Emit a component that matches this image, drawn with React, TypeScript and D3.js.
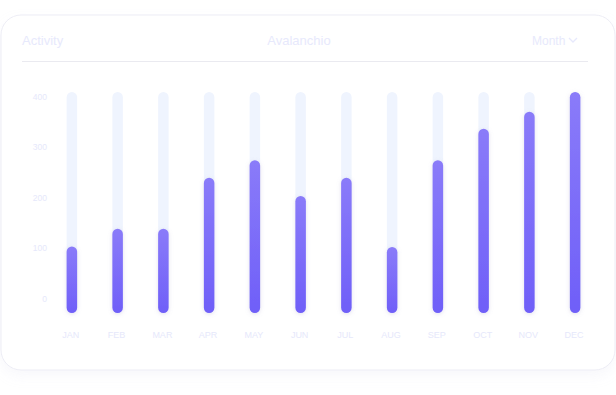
import React, { useEffect, useRef } from "react";
import * as d3 from "d3";

const months = ["JAN", "FEB", "MAR", "APR", "MAY", "JUN", "JUL", "AUG", "SEP", "OCT", "NOV", "DEC"];
const activity = [104, 139, 139, 240, 275, 204, 240, 103, 275, 337, 371, 410];
const yTicks = [0, 100, 200, 300, 400];
const trackMax = 410;

const App = () => {
  const ref = useRef(null);

  useEffect(() => {
    const width = 616;
    const height = 395;

    d3.select(ref.current).selectAll("*").remove();
    const svg = d3
      .select(ref.current)
      .append("svg")
      .attr("width", width)
      .attr("height", height)
      .style("position", "absolute")
      .style("left", 0)
      .style("top", 0)
      .style("font-family", "'Liberation Sans', Arial, sans-serif");

    const defs = svg.append("defs");
    const grad = defs
      .append("linearGradient")
      .attr("id", "barGrad")
      .attr("x1", 0)
      .attr("y1", 0)
      .attr("x2", 0)
      .attr("y2", 1);
    grad.append("stop").attr("offset", "0%").attr("stop-color", "#8a7bf9");
    grad.append("stop").attr("offset", "100%").attr("stop-color", "#6f5ff8");

    const cardShadow = defs.append("filter").attr("id", "cardShadow").attr("x", "-10%").attr("y", "-10%").attr("width", "120%").attr("height", "130%");
    cardShadow.append("feDropShadow").attr("dx", 0).attr("dy", 6).attr("stdDeviation", 6).attr("flood-color", "#d0d0e6").attr("flood-opacity", 0.15);

    const barShadow = defs.append("filter").attr("id", "barShadow").attr("x", "-100%").attr("y", "-20%").attr("width", "300%").attr("height", "140%");
    barShadow.append("feDropShadow").attr("dx", 0).attr("dy", 1).attr("stdDeviation", 2).attr("flood-color", "#9a94c8").attr("flood-opacity", 0.3);

    // card
    svg
      .append("rect")
      .attr("x", 1)
      .attr("y", 15)
      .attr("width", 614)
      .attr("height", 355)
      .attr("rx", 20)
      .attr("fill", "#ffffff")
      .attr("stroke", "#ededf5")
      .attr("stroke-width", 1)
      .attr("filter", "url(#cardShadow)");

    // header
    const headColor = "#e7e9fc";
    svg.append("text").attr("x", 22).attr("y", 45).attr("font-size", 13).attr("fill", headColor).text("Activity");
    svg
      .append("text")
      .attr("x", 299)
      .attr("y", 45)
      .attr("font-size", 13)
      .attr("text-anchor", "middle")
      .attr("fill", headColor)
      .text("Avalanchio");
    svg.append("text").attr("x", 532).attr("y", 45).attr("font-size", 12).attr("fill", headColor).text("Month");
    svg
      .append("path")
      .attr("d", "M569,38 L573,42 L577,38")
      .attr("fill", "none")
      .attr("stroke", headColor)
      .attr("stroke-width", 1.3);

    svg
      .append("line")
      .attr("x1", 22)
      .attr("x2", 588)
      .attr("y1", 61.5)
      .attr("y2", 61.5)
      .attr("stroke", "#eaeaf0")
      .attr("stroke-width", 1);

    // scales
    const x = d3.scaleBand().domain(months).range([49, 598]);
    const y = d3.scaleLinear().domain([0, 400]).range([299, 97]);
    const barW = 10.5;
    const bottom = 313;

    svg
      .append("g")
      .selectAll("text")
      .data(yTicks)
      .enter()
      .append("text")
      .attr("x", 47)
      .attr("y", (d) => y(d))
      .attr("dy", "0.35em")
      .attr("text-anchor", "end")
      .attr("font-size", 8.5)
      .attr("fill", "#e6e8fb")
      .text((d) => d);

    // tracks
    svg
      .append("g")
      .selectAll("rect")
      .data(months)
      .enter()
      .append("rect")
      .attr("x", (d) => (x(d) as number) + x.bandwidth() / 2 - barW / 2)
      .attr("y", y(trackMax))
      .attr("width", barW)
      .attr("height", bottom - y(trackMax))
      .attr("rx", barW / 2)
      .attr("fill", "#eff4fe");

    // bars
    svg
      .append("g")
      .selectAll("rect")
      .data(activity)
      .enter()
      .append("rect")
      .attr("x", (d, i) => (x(months[i]) as number) + x.bandwidth() / 2 - barW / 2)
      .attr("y", (d) => y(d))
      .attr("width", barW)
      .attr("height", (d) => bottom - y(d))
      .attr("rx", barW / 2)
      .attr("fill", "url(#barGrad)")
      .attr("filter", "url(#barShadow)");

    // month labels
    svg
      .append("g")
      .selectAll("text")
      .data(months)
      .enter()
      .append("text")
      .attr("x", (d) => (x(d) as number) + x.bandwidth() / 2 - 1)
      .attr("y", 335)
      .attr("dy", "0.35em")
      .attr("text-anchor", "middle")
      .attr("font-size", 9)
      .attr("fill", "#e6e8fb")
      .text((d) => d);
  }, []);

  return <div ref={ref}></div>;
};

export default App;
